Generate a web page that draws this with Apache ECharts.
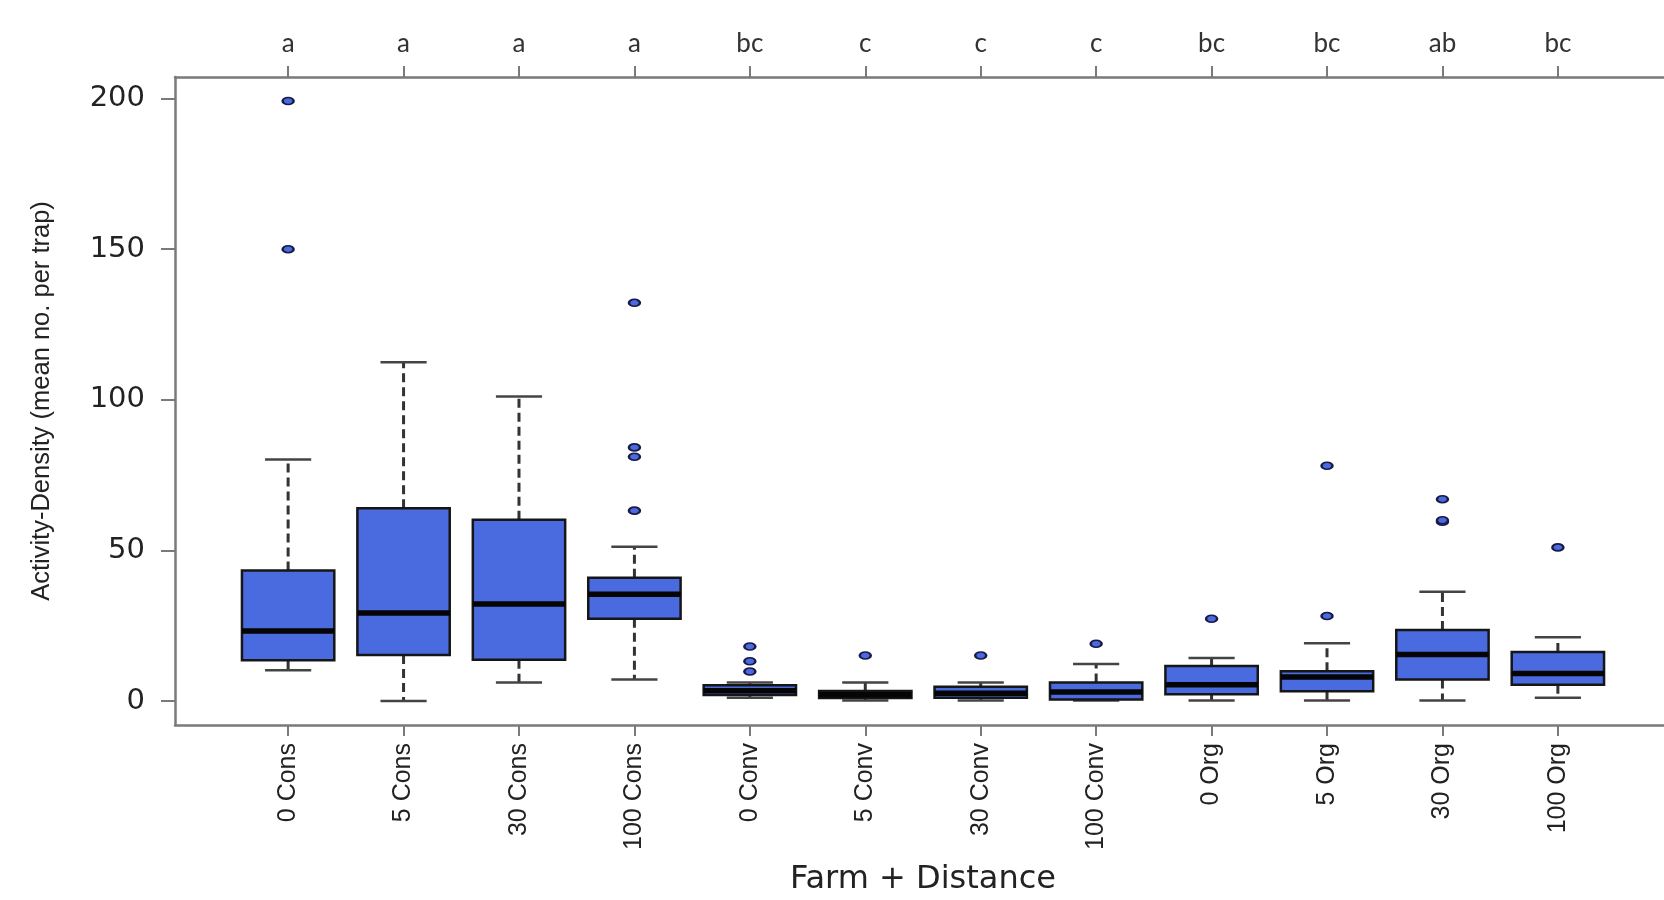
<!DOCTYPE html>
<html>
<head>
<meta charset="utf-8">
<title>Activity-Density by Farm + Distance</title>
<script src="https://cdn.jsdelivr.net/npm/echarts@6/dist/echarts.min.js"></script>
<style>
  html, body { margin: 0; padding: 0; background: #ffffff; }
  #chart { width: 1664px; height: 900px; }
</style>
</head>
<body>
<div id="chart"></div>
<script>
// Treatment groups (farm type + distance) and their significance letters
const categories = ['0 Cons', '5 Cons', '30 Cons', '100 Cons',
                    '0 Conv', '5 Conv', '30 Conv', '100 Conv',
                    '0 Org', '5 Org', '30 Org', '100 Org'];
const groupLetters = ['a', 'a', 'a', 'a', 'bc', 'c', 'c', 'c', 'bc', 'bc', 'ab', 'bc'];

// Five-number summaries per group
const whiskerLow  = [10.2, 0.0, 6.1, 7.1, 1.1, 0.2, 0.2, 0.2, 0.2, 0.2, 0.2, 1.1];
const q1          = [13.5, 15.3, 13.7, 27.3, 2.0, 1.0, 1.1, 0.5, 2.2, 3.2, 7.1, 5.4];
const medians     = [23.2, 29.2, 32.2, 35.4, 3.4, 2.1, 2.6, 3.0, 5.4, 8.0, 15.4, 9.1];
const q3          = [43.3, 64.0, 60.2, 40.9, 5.2, 3.3, 4.7, 6.1, 11.6, 9.9, 23.6, 16.3];
const whiskerHigh = [80.2, 112.5, 101.1, 51.2, 6.1, 6.1, 6.1, 12.3, 14.3, 19.2, 36.3, 21.2];

// Outlying observations per group
const outliers = [
  [150.0, 199.2],
  [],
  [],
  [63.2, 81.1, 84.2, 132.2],
  [9.8, 13.2, 18.1],
  [15.1],
  [15.1],
  [19.0],
  [27.3],
  [28.2, 78.1],
  [59.5, 60.0, 67.0],
  [51.0]
];

const yTicks = [0, 50, 100, 150, 200];
const xPositions = categories.map((c, i) => i + 1);

const boxData = categories.map((c, i) =>
  [i + 1, whiskerLow[i], q1[i], medians[i], q3[i], whiskerHigh[i]]);
const outlierData = [];
outliers.forEach((vals, i) => vals.forEach(v => outlierData.push([i + 1, v])));

const axisGray = '#7a7a7a';
const arial = '"Liberation Sans", Arial, sans-serif';

function renderBox(params, api) {
  const x = api.value(0);
  const lo = api.coord([x, api.value(1)]);
  const b = api.coord([x, api.value(2)]);
  const m = api.coord([x, api.value(3)]);
  const t = api.coord([x, api.value(4)]);
  const hi = api.coord([x, api.value(5)]);
  const cx = lo[0];
  const w = api.size([0.8, 0])[0];
  const cap = w / 4;
  const whisk = { stroke: '#333333', lineWidth: 3, lineDash: [9, 5] };
  const solid = { stroke: '#444444', lineWidth: 2.5 };
  return {
    type: 'group',
    children: [
      { type: 'line', shape: { x1: cx, y1: t[1], x2: cx, y2: hi[1] }, style: whisk },
      { type: 'line', shape: { x1: cx, y1: b[1], x2: cx, y2: lo[1] }, style: whisk },
      { type: 'line', shape: { x1: cx - cap, y1: hi[1], x2: cx + cap, y2: hi[1] }, style: solid },
      { type: 'line', shape: { x1: cx - cap, y1: lo[1], x2: cx + cap, y2: lo[1] }, style: solid },
      { type: 'rect', shape: { x: cx - w / 2, y: t[1], width: w, height: b[1] - t[1] },
        style: { fill: '#4a6adf', stroke: '#161616', lineWidth: 2.5 } },
      { type: 'line', shape: { x1: cx - w / 2, y1: m[1], x2: cx + w / 2, y2: m[1] },
        style: { stroke: '#050505', lineWidth: 5.5 } }
    ]
  };
}

const chart = echarts.init(document.getElementById('chart'), null, { renderer: 'canvas' });

const xCommon = {
  type: 'value',
  min: 0.02,
  max: 12.98,
  splitLine: { show: false },
  axisLine: { show: true, onZero: false, lineStyle: { color: axisGray, width: 2.5 } },
  axisTick: { show: true, customValues: xPositions, length: 11, lineStyle: { color: axisGray, width: 2 } }
};

chart.setOption({
  animation: false,
  backgroundColor: '#ffffff',
  grid: {
    left: 175, top: 77, width: 1496, height: 648,
    containLabel: false,
    outerBoundsMode: 'none'
  },
  xAxis: [
    Object.assign({}, xCommon, {
      position: 'bottom',
      name: 'Farm + Distance',
      nameLocation: 'middle',
      nameGap: 139,
      nameTextStyle: { fontFamily: 'DejaVu Sans', fontSize: 32, color: '#222' },
      axisLabel: {
        customValues: xPositions,
        rotate: 90,
        margin: 18,
        fontFamily: arial,
        fontSize: 25,
        color: '#222',
        formatter: v => categories[Math.round(v) - 1]
      }
    }),
    Object.assign({}, xCommon, {
      position: 'top',
      axisLabel: {
        customValues: xPositions,
        margin: 20,
        fontFamily: 'Lato, "Open Sans", sans-serif',
        fontSize: 26,
        color: '#333',
        formatter: v => groupLetters[Math.round(v) - 1]
      }
    })
  ],
  yAxis: {
    type: 'value',
    min: -7.97,
    max: 207.17,
    splitLine: { show: false },
    axisLine: { show: true, onZero: false, lineStyle: { color: axisGray, width: 2.5 } },
    axisTick: { show: true, customValues: yTicks, length: 14, lineStyle: { color: axisGray, width: 2 } },
    axisLabel: {
      customValues: yTicks,
      margin: 30,
      fontFamily: 'DejaVu Sans',
      fontSize: 29,
      color: '#222'
    },
    name: 'Activity-Density (mean no. per trap)',
    nameLocation: 'middle',
    nameGap: 120,
    nameRotate: 90,
    nameTextStyle: { fontFamily: arial, fontSize: 25.5, color: '#222' }
  },
  series: [
    {
      type: 'custom',
      name: 'boxes',
      xAxisIndex: 0,
      renderItem: renderBox,
      encode: { x: 0, y: [1, 2, 3, 4, 5] },
      data: boxData,
      z: 2
    },
    {
      type: 'scatter',
      name: 'outliers',
      xAxisIndex: 0,
      symbol: 'circle',
      symbolSize: [11, 7],
      itemStyle: { color: '#4a6adf', borderColor: '#1a1a48', borderWidth: 2, opacity: 1 },
      data: outlierData,
      z: 3
    }
  ]
});
</script>
</body>
</html>
